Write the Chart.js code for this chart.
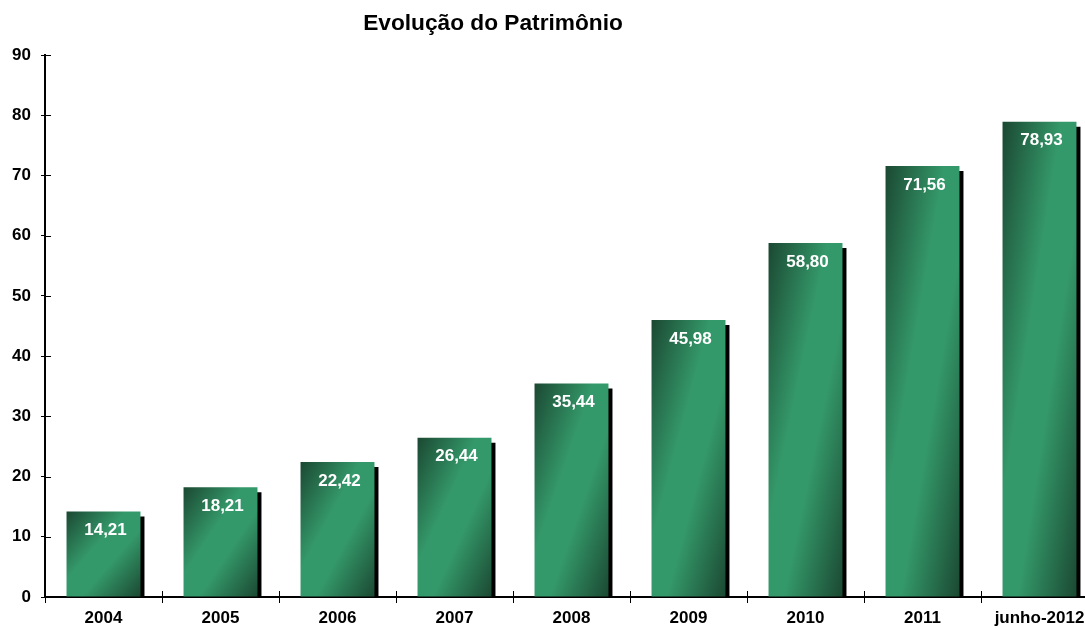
<!DOCTYPE html>
<html>
<head>
<meta charset="utf-8">
<script src="https://cdn.jsdelivr.net/npm/chart.js@4.4.1/dist/chart.umd.min.js"></script>
<style>
    body { margin: 0; overflow: hidden; background: #fff; }
    #wrap { position: absolute; left: 0; top: 0; width: 1100px; height: 628px; }
</style>
</head>
<body>
<div id="wrap"><canvas id="patrimonio" width="1100" height="628"></canvas></div>
<script>
const anos = ["2004", "2005", "2006", "2007", "2008", "2009", "2010", "2011", "junho-2012"];
const patrimonio = [14.21, 18.21, 22.42, 26.44, 35.44, 45.98, 58.80, 71.56, 78.93];
const y_ticks = [0, 10, 20, 30, 40, 50, 60, 70, 80, 90];
const titulo = "Evolução do Patrimônio";

const verde_escuro = "rgb(27,72,50)";
const verde_claro = "rgb(52,153,106)";
const bar_pct = 0.632;
const fonte = "'Liberation Sans', Arial, sans-serif";

// gradiente diagonal como no excel (isolinhas na antidiagonal da barra)
function bar_gradient(context) {
    const chart = context.chart;
    const xs = chart.scales.x;
    const ys = chart.scales.y;
    if (!chart.chartArea || !xs || !ys) return verde_claro;
    const val = context.raw;
    const w = (xs.width / anos.length) * bar_pct;
    const left = xs.getPixelForValue(context.dataIndex) - w / 2;
    const top = ys.getPixelForValue(val);
    const h = ys.getPixelForValue(0) - top;
    const t = 2 * w * h / (h * h + w * w);
    const g = chart.ctx.createLinearGradient(left, top, left + t * h, top + t * w);
    g.addColorStop(0, verde_escuro);
    g.addColorStop(0.4, verde_claro);
    g.addColorStop(0.6, verde_claro);
    g.addColorStop(1, verde_escuro);
    return g;
}

const sombra = {
    id: "sombra",
    beforeDatasetDraw(chart) {
        const ctx = chart.ctx;
        ctx.save();
        ctx.shadowColor = "#000";
        ctx.shadowOffsetX = 4;
        ctx.shadowOffsetY = 5;
        ctx.shadowBlur = 0;
    },
    afterDatasetDraw(chart) {
        chart.ctx.restore();
    }
};

const rotulos = {
    id: "rotulos",
    afterDatasetsDraw(chart) {
        const ctx = chart.ctx;
        const meta = chart.getDatasetMeta(0);
        ctx.save();
        ctx.fillStyle = "#fff";
        ctx.font = "bold 17px " + fonte;
        ctx.textAlign = "center";
        ctx.textBaseline = "middle";
        meta.data.forEach((bar, i) => {
            const txt = patrimonio[i].toFixed(2).replace(".", ",");
            ctx.fillText(txt, bar.x + 2, bar.y + 19);
        });
        ctx.restore();
    }
};

// titulo e tracinhos que cruzam os eixos
const extras = {
    id: "extras",
    afterDraw(chart) {
        const ctx = chart.ctx;
        const area = chart.chartArea;
        const xs = chart.scales.x;
        const ys = chart.scales.y;
        ctx.save();
        ctx.strokeStyle = "#000";
        ctx.lineWidth = 1;
        ctx.beginPath();
        ys.ticks.forEach((tk) => {
            const py = Math.round(ys.getPixelForValue(tk.value)) + 0.5;
            ctx.moveTo(area.left, py);
            ctx.lineTo(area.left + 6, py);
        });
        for (let i = 1; i < anos.length; i++) {
            const px = Math.round(xs.getPixelForValue(i) - xs.width / anos.length / 2) + 0.5;
            ctx.moveTo(px, area.bottom);
            ctx.lineTo(px, area.bottom - 6);
        }
        ctx.stroke();
        ctx.fillStyle = "#000";
        ctx.font = "bold 22.7px " + fonte;
        ctx.textAlign = "center";
        ctx.textBaseline = "middle";
        ctx.fillText(titulo, 493, 24);
        ctx.restore();
    }
};

new Chart(document.getElementById("patrimonio"), {
    type: "bar",
    data: {
        labels: anos,
        datasets: [{
            data: patrimonio,
            backgroundColor: bar_gradient,
            borderWidth: 0,
            categoryPercentage: 1,
            barPercentage: bar_pct,
            clip: 0
        }]
    },
    options: {
        responsive: false,
        animation: false,
        devicePixelRatio: 1,
        layout: { padding: { top: 55, right: 2, left: 0, bottom: 0 } },
        plugins: {
            legend: { display: false },
            title: { display: false },
            tooltip: { enabled: false }
        },
        scales: {
            x: {
                z: 1,
                offset: true,
                border: { display: true, color: "#000", width: 2 },
                grid: { offset: true, drawOnChartArea: false, drawTicks: true, tickLength: 6, color: "#000", lineWidth: 1 },
                ticks: { color: "#000", font: { family: fonte, size: 17, weight: "bold" }, padding: 5, maxRotation: 0, autoSkip: false },
                afterFit: function (scale) { scale.height = 31; }
            },
            y: {
                z: 1,
                min: 0,
                max: 90,
                afterBuildTicks: function (scale) { scale.ticks = y_ticks.map(v => ({ value: v })); },
                border: { display: true, color: "#000", width: 2 },
                grid: { drawOnChartArea: false, drawTicks: true, tickLength: 4, color: "#000", lineWidth: 1 },
                ticks: { color: "#000", font: { family: fonte, size: 17, weight: "bold" }, padding: 10 },
                afterFit: function (scale) { scale.width = 45; }
            }
        }
    },
    plugins: [sombra, rotulos, extras]
});
</script>
</body>
</html>
